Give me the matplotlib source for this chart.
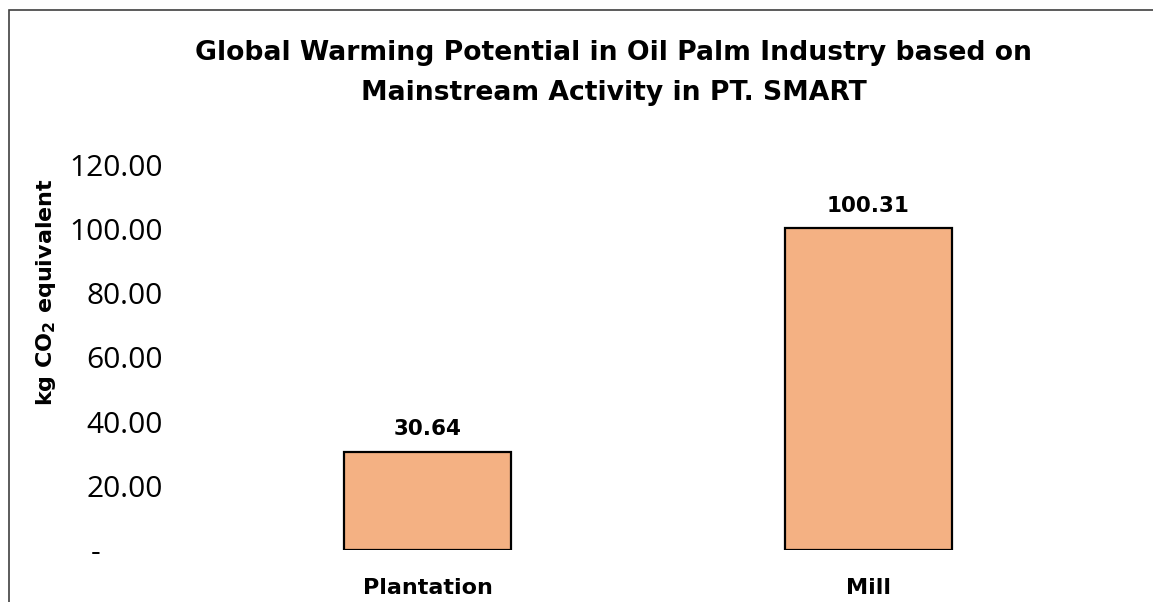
import matplotlib.pyplot as plt
from matplotlib.patches import Rectangle
from matplotlib.ticker import FuncFormatter

# data
categories = ['Plantation', 'Mill']
gwp_values = [30.64, 100.31]
y_ticks = [0, 20, 40, 60, 80, 100, 120]

plt.rcParams['font.family'] = ['Open Sans', 'DejaVu Sans']
BOLD = 'DejaVu Sans'

fig = plt.figure(figsize=(11.53, 6.02), dpi=100)
ax = fig.add_axes([0.180, 0.0864, 0.764, 0.6395])

# chart area border (cropped on right and bottom, like the reference)
fig.patches.append(Rectangle((9 / 1153, -0.1), 1.2, 1 - 10 / 602 + 0.1,
                             transform=fig.transFigure, fill=False,
                             edgecolor='#404040', linewidth=1.2))

x = range(len(categories))
bars = ax.bar(x, gwp_values, width=0.38, color='#F4B183',
              edgecolor='black', linewidth=1.6)

for b, v in zip(bars, gwp_values):
    ax.annotate(f'{v:.2f}', (b.get_x() + b.get_width() / 2, v),
                xytext=(0, 12), textcoords='offset points',
                ha='center', va='baseline', fontsize=15.5, fontweight='bold',
                family=BOLD)

ax.set_xlim(-0.5, 1.5)
ax.set_ylim(0, 120)
ax.set_xticks(list(x))
ax.set_xticklabels(categories, fontsize=16, fontweight='bold', family=BOLD)
ax.set_yticks(y_ticks)
# accounting style: zero shown as a dash
ax.yaxis.set_major_formatter(
    FuncFormatter(lambda v, p: '-' + ' ' * 8 if v == 0 else f'{v:.2f}'))
ax.tick_params(axis='y', length=0, pad=32, labelsize=21.5)
ax.tick_params(axis='x', length=0, pad=20)

for s in ax.spines.values():
    s.set_visible(False)

ax.set_ylabel('kg CO$_\\mathbf{2}$ equivalent', fontsize=16,
              fontweight='bold', family=BOLD)
ax.yaxis.set_label_coords(-0.17, 0.67)

fig.suptitle('Global Warming Potential in Oil Palm Industry based on\n'
             'Mainstream Activity in PT. SMART',
             x=0.532, y=0.934, fontsize=19.2, fontweight='bold',
             family=BOLD, linespacing=1.7, va='top')

fig.savefig('out.png', dpi=100)
